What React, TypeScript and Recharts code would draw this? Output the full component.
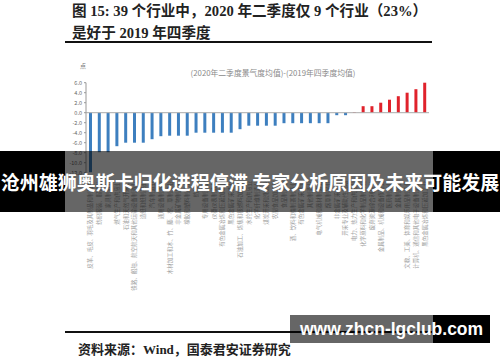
import { BarChart, Bar, XAxis, YAxis, Cell, ReferenceLine } from 'recharts'

// 39 个行业
const industries = [
  '皮革、毛皮、羽毛及其制品和制鞋业', '纺织服装、服饰业', '家具制造业', '燃气生产和供应业',
  '石油和天然气开采业', '铁路、船舶、航空航天和其他运输设备制造业', '造纸和纸制品业', '汽车制造业',
  '通用设备制造业', '木材加工和木、竹、藤、棕、草制品业', '非金属矿物制品业', '橡胶和塑料制品业',
  '纺织业', '专用设备制造业', '仪器仪表制造业', '有色金属冶炼和压延加工业',
  '黑色金属矿采选业', '石油加工、炼焦和核燃料加工业', '水的生产和供应业', '化学纤维制造业',
  '煤炭开采和洗选业', '农副食品加工业', '食品制造业', '酒、饮料和精制茶制造业',
  '有色金属矿采选业', '其他制造业', '电气机械和器材制造业', '烟草制品业',
  '非金属矿采选业', '开采专业及辅助性活动', '电力、热力生产和供应业', '化学原料和化学制品制造业',
  '废弃资源综合利用业', '金属制品、机械和设备修理业', '医药制造业', '金属制品业',
  '文教、工美、体育和娱乐用品制造业', '计算机、通信和其他电子设备制造业', '黑色金属冶炼和压延加工业',
]

// (2020年二季度景气度均值)-(2019年四季度均值)
const diffs = [
  -11.9, -7.9, -7.9, -6.7, -6.0, -6.0, -6.0, -5.3,
  -4.7, -4.6, -4.6, -4.6, -4.0, -4.0, -4.0, -4.0,
  -4.0, -3.3, -2.6, -2.6, -2.6, -2.6, -2.1, -2.1,
  -2.1, -2.1, -2.1, -2.1, -0.5, -0.5, 0.1, 1.3,
  1.3, 2.0, 2.6, 3.3, 4.0, 4.7, 6.0,
]

const yTicks = [-12, -10, -8, -6, -4, -2, 0, 2, 4, 6]

const data = industries.map((name, i) => ({ name, value: diffs[i] }))

const serif = '"Liberation Serif", "Noto Sans CJK SC", serif'
const sans = '"Noto Sans CJK SC", "Noto Sans", sans-serif'

function CategoryTick({ x, y, payload }: any) {
  return (
    <text
      x={x}
      y={y}
      transform={`rotate(-90, ${x}, ${y})`}
      textAnchor="end"
      dominantBaseline="central"
      fontSize={5.5}
      fill="#a0a0a0"
      fontFamily={sans}
    >
      {payload.value}
    </text>
  )
}

export default function App() {
  return (
    <div style={{ position: 'fixed', left: 0, top: 0, width: 500, height: 362, background: '#fff', overflow: 'hidden' }}>
      <div style={{ position: 'absolute', left: 72, top: 0, fontFamily: serif, fontWeight: 700, fontSize: 14.6, lineHeight: '22px', color: '#222', whiteSpace: 'nowrap' }}>
        图 15: 39 个行业中，2020 年二季度仅 9 个行业（23%）<br />是好于 2019 年四季度
      </div>
      <div style={{ position: 'absolute', left: 65, top: 41, width: 367, height: 2, background: '#111' }} />

      <div style={{ position: 'absolute', left: 80, top: 61, fontFamily: sans, fontSize: 6, color: '#777' }}>点</div>
      <div style={{ position: 'absolute', left: 273, top: 67, transform: 'translateX(-50%)', whiteSpace: 'nowrap', fontFamily: sans, fontSize: 7.8, color: '#8a8a8a' }}>
        (2020年二季度景气度均值)-(2019年四季度均值)
      </div>

      <div style={{ position: 'absolute', left: 0, top: 0 }}>
        <BarChart
          width={500}
          height={362}
          data={data}
          margin={{ top: 82.7, right: 71, bottom: 39.3, left: 64 }}
          barCategoryGap={0}
        >
          <XAxis
            dataKey="name"
            interval={0}
            height={150}
            axisLine={false}
            tickLine={false}
            tick={<CategoryTick />}
          />
          <YAxis
            width={22}
            domain={[-12, 6]}
            ticks={yTicks}
            interval={0}
            tickFormatter={v => v.toFixed(1)}
            tick={{ fontSize: 5.5, fill: '#666', fontFamily: sans }}
            axisLine={{ stroke: '#999' }}
            tickLine={{ stroke: '#999' }}
            tickSize={2}
          />
          <ReferenceLine y={0} stroke="#aaa" />
          <Bar dataKey="value" barSize={3} isAnimationActive={false}>
            {data.map((d, i) => (
              <Cell key={i} fill={d.value < 0 ? '#3d7fbf' : '#e0222b'} />
            ))}
          </Bar>
        </BarChart>
      </div>

      <div style={{ position: 'absolute', left: 0, top: 151, width: 65, height: 61, background: '#000' }} />
      <div style={{ position: 'absolute', left: 65, top: 151, width: 368, height: 61, background: 'rgba(0,0,0,0.6)' }} />
      <div style={{ position: 'absolute', left: 433, top: 151, width: 67, height: 61, background: '#000' }} />
      <div style={{ position: 'absolute', left: 0, top: 170, width: 500, textAlign: 'center', whiteSpace: 'nowrap', fontFamily: sans, fontWeight: 700, fontSize: 19, lineHeight: '24px', color: '#fff' }}>
        沧州雄狮奥斯卡归化进程停滞 专家分析原因及未来可能发展
      </div>

      <div style={{ position: 'absolute', left: 65, top: 331, width: 367, height: 2, background: '#111' }} />
      <div style={{ position: 'absolute', left: 290, top: 315, width: 143, height: 28, background: 'rgba(0,0,0,0.6)' }} />
      <div style={{ position: 'absolute', left: 433, top: 315, width: 57, height: 28, background: '#000' }} />
      <div style={{ position: 'absolute', left: 300, top: 317, fontFamily: '"Liberation Sans", sans-serif', fontWeight: 700, fontSize: 17.5, lineHeight: '24px', color: '#fff', whiteSpace: 'nowrap' }}>
        www.zhcn-lgclub.com
      </div>
      <div style={{ position: 'absolute', left: 78, top: 341, fontFamily: serif, fontWeight: 700, fontSize: 13, lineHeight: '18px', color: '#222', whiteSpace: 'nowrap' }}>
        资料来源：Wind，国泰君安证券研究
      </div>
    </div>
  )
}
